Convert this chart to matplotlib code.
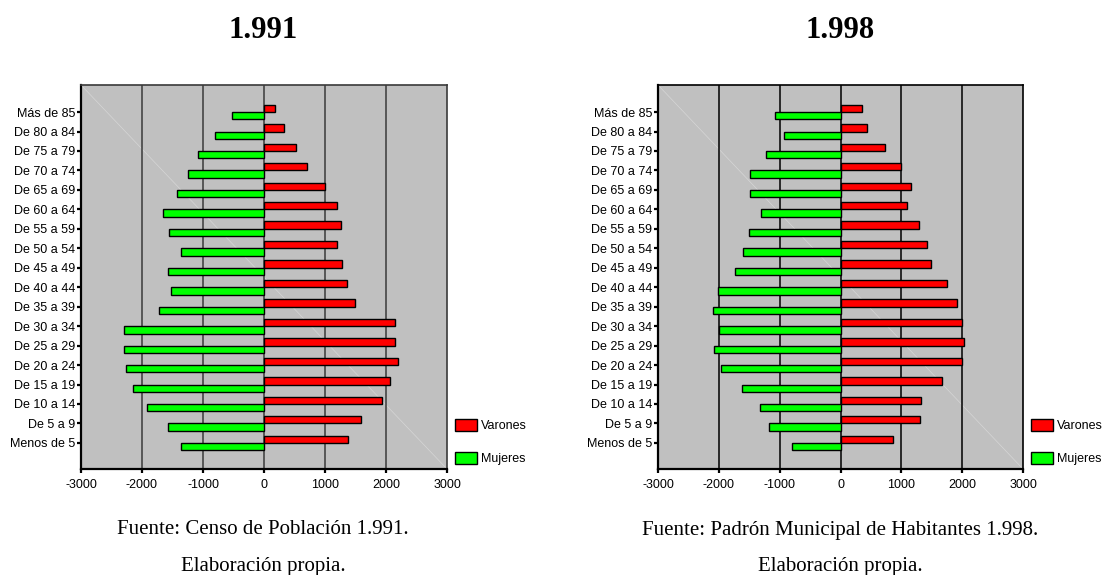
import matplotlib
matplotlib.use("Agg")
import matplotlib.pyplot as plt
import numpy as np

# ---- data ----
categories = ["Menos de 5", "De 5 a 9", "De 10 a 14", "De 15 a 19", "De 20 a 24",
              "De 25 a 29", "De 30 a 34", "De 35 a 39", "De 40 a 44", "De 45 a 49",
              "De 50 a 54", "De 55 a 59", "De 60 a 64", "De 65 a 69", "De 70 a 74",
              "De 75 a 79", "De 80 a 84", "Más de 85"]

varones_1991 = [1377, 1590, 1929, 2060, 2191, 2148, 2148, 1486, 1361, 1284,
                1191, 1262, 1191, 1000, 705, 530, 322, 175]
mujeres_1991 = [-1355, -1579, -1918, -2148, -2257, -2301, -2301, -1727, -1525, -1579,
                -1355, -1563, -1661, -1432, -1240, -1087, -809, -525]

varones_1998 = [869, 1301, 1317, 1661, 2000, 2038, 2000, 1907, 1754, 1492,
                1415, 1284, 1093, 1153, 1000, 732, 432, 361]
mujeres_1998 = [-792, -1169, -1322, -1623, -1962, -2077, -2000, -2093, -2016, -1732,
                -1601, -1503, -1301, -1486, -1486, -1224, -923, -1077]

titles = ["1.991", "1.998"]
fuentes = ["Fuente: Censo de Población 1.991.",
           "Fuente: Padrón Municipal de Habitantes 1.998."]
elaboracion = "Elaboración propia."
xticks = [-3000, -2000, -1000, 0, 1000, 2000, 3000]
gridlines = [-2000, -1000, 0, 1000, 2000]
series_labels = ["Varones", "Mujeres"]

# ---- figure ----
W, H = 1103, 575
fig = plt.figure(figsize=(W / 100, H / 100), dpi=100)
fig.patch.set_facecolor("white")

SANS = ["Liberation Sans", "DejaVu Sans"]
SERIF = ["Liberation Serif", "DejaVu Serif"]

panels = [
    dict(left=81, right=447, cx=263, v=varones_1991, m=mujeres_1991,
         title=titles[0], fuente=fuentes[0], gridc="#3a3a3a", frame="#3a3a3a"),
    dict(left=658, right=1023, cx=840, v=varones_1998, m=mujeres_1998,
         title=titles[1], fuente=fuentes[1], gridc="#000000", frame="#000000"),
]

top_px, bot_px = 85, 469
y = np.arange(len(categories))
bh = 0.38

for p in panels:
    ax = fig.add_axes([p["left"] / W, 1 - bot_px / H,
                       (p["right"] - p["left"]) / W, (bot_px - top_px) / H])
    ax.set_facecolor("#c0c0c0")
    ax.set_xlim(-3000, 3000)
    ax.set_ylim(-1.34, 18.39)
    # faint diagonal
    ax.plot([0, 1], [1, 0], transform=ax.transAxes, color="#d6d6d6", lw=0.5, zorder=1)
    for g in gridlines:
        ax.axvline(g, color=p["gridc"], lw=1.1, zorder=1.5)
    hv = ax.barh(y + bh / 2, p["v"], height=bh, color="#ff0000",
                 edgecolor="black", linewidth=1.0, zorder=3, label=series_labels[0])
    hm = ax.barh(y - bh / 2, p["m"], height=bh, color="#00ff00",
                 edgecolor="black", linewidth=1.0, zorder=3, label=series_labels[1])
    ax.set_yticks(y)
    ax.set_yticklabels(categories, fontfamily=SANS, fontsize=9)
    ax.set_xticks(xticks)
    ax.set_xticklabels([str(t) for t in xticks], fontfamily=SANS, fontsize=9)
    ax.tick_params(axis="y", length=3, width=1.6, pad=1, direction="out")
    ax.tick_params(axis="x", length=3, width=1.6, pad=4, direction="out")
    for s in ["left", "bottom"]:
        ax.spines[s].set_color("black")
        ax.spines[s].set_linewidth(1.6)
    for s in ["top", "right"]:
        ax.spines[s].set_color(p["frame"])
        ax.spines[s].set_linewidth(1.2)
    ax.legend(handles=[hv, hm], labels=series_labels, loc="upper left",
              bbox_to_anchor=(1.022, 0.130), frameon=False, borderpad=0,
              borderaxespad=0, handlelength=1.76, handleheight=1.12,
              handletextpad=0.3, labelspacing=1.55,
              prop=dict(family=SANS, size=9))
    fig.text(p["cx"] / W, 1 - 30 / H, p["title"], ha="center", va="center",
             fontfamily=SERIF, fontweight="bold", fontsize=22)
    fig.text(p["cx"] / W, 1 - 530 / H, p["fuente"], ha="center", va="center",
             fontfamily=SERIF, fontsize=15)
    fig.text(p["cx"] / W, 1 - 566 / H, elaboracion, ha="center", va="center",
             fontfamily=SERIF, fontsize=15)

fig.savefig("out.png", dpi=100)
